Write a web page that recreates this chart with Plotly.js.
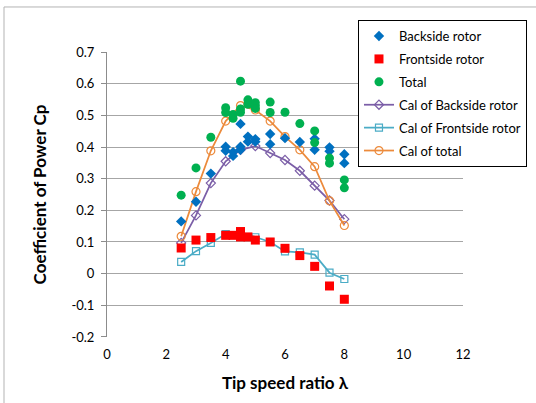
<!DOCTYPE html>
<html><head><meta charset="utf-8">
<script src="https://cdn.plot.ly/plotly-3.0.1.min.js"></script>
<style>html,body{margin:0;padding:0;background:#fff}#chart{width:536px;height:403px}</style>
</head><body><div id="chart"></div><script>
// Measured data
const backX = [2.5,3,3.5,4,4,4.25,4.25,4.5,4.5,4.5,4.75,4.75,5,5,5.5,5.5,6,6.5,7,7,7.5,7.5,8,8];
const backY = [0.165,0.227,0.316,0.401,0.388,0.384,0.372,0.473,0.401,0.391,0.433,0.417,0.425,0.417,0.441,0.409,0.428,0.416,0.426,0.391,0.399,0.387,0.377,0.349];
const frontX = [2.5,3,3.5,4,4.25,4.5,4.5,4.75,5,5.5,6,6.5,7,7.5,8];
const frontY = [0.081,0.106,0.114,0.121,0.121,0.133,0.116,0.116,0.106,0.100,0.080,0.057,0.023,-0.039,-0.081];
const totalX = [2.5,3,3.5,4,4,4.25,4.25,4.5,4.5,4.5,4.75,4.75,5,5,5,5.5,5.5,6,6.5,7,7,7.5,7.5,8,8];
const totalY = [0.248,0.334,0.431,0.524,0.509,0.503,0.491,0.608,0.520,0.510,0.549,0.535,0.540,0.530,0.522,0.542,0.509,0.510,0.474,0.451,0.414,0.365,0.349,0.296,0.271];
// Calculated curves
const calX = [2.5,3,3.5,4,4.5,5,5.5,6,6.5,7,7.5,8];
const calBackY = [0.097,0.184,0.286,0.355,0.391,0.403,0.381,0.359,0.325,0.278,0.231,0.172];
const calFrontY = [0.037,0.071,0.097,0.125,0.131,0.115,0.100,0.070,0.067,0.060,0.003,-0.017];
const calTotalY = [0.118,0.259,0.388,0.482,0.531,0.517,0.482,0.433,0.391,0.338,0.230,0.152];
// Ticks
const xTickVals = [0,2,4,6,8,10,12];
const xTickText = ['0','2','4','6','8','10','12'];
const yTickVals = [-0.2,-0.1,0,0.1,0.2,0.3,0.4,0.5,0.6,0.7];
const yTickText = ['-0.2','-0.1','0','0.1','0.2','0.3','0.4','0.5','0.6','0.7'];

const FONT = 'Lato, "Open Sans", sans-serif';
const traces = [
  {x: calX, y: calBackY, name: 'Cal of Backside rotor', mode: 'lines+markers', legendrank: 4, legendgroup: 'g4',
   line: {color: '#7b5ea7', width: 1.75}, marker: {symbol: 'diamond-open', size: 7, color: '#7b5ea7', line: {width: 1.2}}},
  {x: calX, y: calFrontY, name: 'Cal of Frontside rotor', mode: 'lines+markers', legendrank: 5, legendgroup: 'g5',
   line: {color: '#4bacc6', width: 1.75}, marker: {symbol: 'square-open', size: 7, color: '#4bacc6', line: {width: 1.2}}},
  {x: calX, y: calTotalY, name: 'Cal of total', mode: 'lines+markers', legendrank: 6, legendgroup: 'g6',
   line: {color: '#ec8a3b', width: 1.75}, marker: {symbol: 'circle-open', size: 8, color: '#ec8a3b', line: {width: 1.2}}},
  {x: backX, y: backY, name: 'Backside rotor', mode: 'markers', legendrank: 1, legendgroup: 'g1',
   marker: {symbol: 'diamond', size: 8, color: '#0070c0'}},
  {x: frontX, y: frontY, name: 'Frontside rotor', mode: 'markers', legendrank: 2, legendgroup: 'g2',
   marker: {symbol: 'square', size: 9, color: '#ff0000'}},
  {x: totalX, y: totalY, name: 'Total', mode: 'markers', legendrank: 3, legendgroup: 'g3',
   marker: {symbol: 'circle', size: 9, color: '#00b050'}}
];

const layout = {
  width: 536, height: 403,
  margin: {l: 107, r: 73, t: 52, b: 66, autoexpand: false},
  paper_bgcolor: '#fff', plot_bgcolor: '#fff',
  font: {family: FONT, color: '#000', size: 13},
  showlegend: true,
  legend: {x: 0.705, y: 1.112, xanchor: 'left', yanchor: 'top', bgcolor: '#fff',
    bordercolor: '#000', borderwidth: 1, font: {family: FONT, size: 13, color: '#000'},
    itemwidth: 30, tracegroupgap: 3},
  xaxis: {range: [0, 12], tickvals: xTickVals, ticktext: xTickText, showgrid: false, zeroline: false,
    showline: false, ticks: '', ticklabelstandoff: 8, tickfont: {family: FONT, size: 13, color: '#000'},
    title: {text: 'Tip speed ratio λ', font: {family: FONT, size: 17, color: '#000', weight: 'bold'}, standoff: 16},
    fixedrange: true, automargin: false},
  xaxis2: {range: [0, 12], overlaying: 'x', anchor: 'free', position: 0.2222, tickvals: xTickVals,
    showticklabels: false, showgrid: false, zeroline: false, showline: true, linecolor: '#8c8c8c', linewidth: 1,
    ticks: 'inside', ticklen: 4, tickcolor: '#8c8c8c', automargin: false},
  yaxis: {range: [-0.2002, 0.7002], tickvals: yTickVals, ticktext: yTickText, showgrid: true, gridcolor: '#a6a6a6',
    gridwidth: 1, zeroline: false, showline: true, linecolor: '#8c8c8c', ticks: 'outside', ticklen: 5,
    tickcolor: '#8c8c8c', ticklabelstandoff: 4, tickfont: {family: FONT, size: 13, color: '#000'},
    title: {text: 'Coefficient of Power Cp', font: {family: FONT, size: 17, color: '#000', weight: 'bold'}, standoff: 20},
    fixedrange: true, automargin: false},
  shapes: [{type: 'rect', xref: 'paper', yref: 'paper', x0: -0.2893, x1: 1.22, y0: -0.3, y1: 1.158,
    line: {color: '#b3b3b3', width: 1}, fillcolor: 'rgba(0,0,0,0)', layer: 'below'}]
};
Plotly.newPlot('chart', traces, layout, {displayModeBar: false, staticPlot: true});
</script></body></html>
